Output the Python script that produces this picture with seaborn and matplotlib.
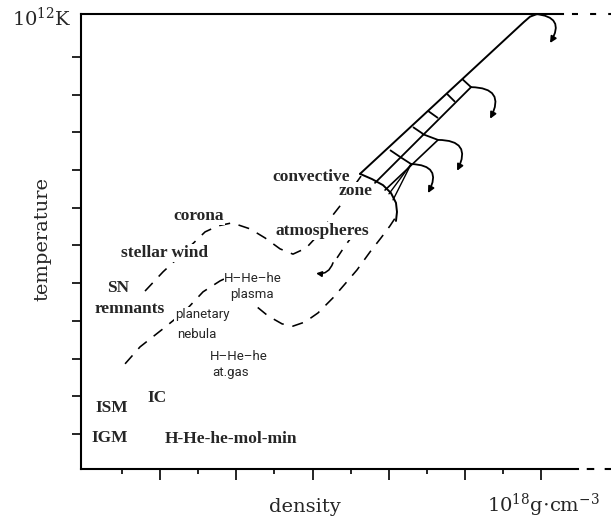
import matplotlib
matplotlib.use("Agg")
import matplotlib.pyplot as plt
import seaborn as sns
from matplotlib import font_manager

# ---------------- data (x: log10 density, y: log10 temperature) ----------------
xtick_major = [-12, -6, 0, 6, 12, 18]
xtick_minor = [-15, -9, -3, 3, 9, 15]
ytick_vals = [1, 2, 3, 4, 5, 6, 7, 8, 9, 10, 11]

# upper dashed track: stellar wind -> corona -> atmospheres -> convective zone
upper_x = [-13.19, -11.77, -10.43, -8.46, -7.44, -6.34, -4.92, -3.74, -2.56, -1.54,
           -0.51, 0.59, 1.54, 2.40, 3.11, 3.82]
upper_y = [4.79, 5.30, 5.72, 6.36, 6.52, 6.60, 6.44, 6.20, 5.91, 5.77,
           5.93, 6.33, 6.78, 7.15, 7.50, 7.84]

# lower dashed track: planetary nebula -> plasma -> base of convective zone
lower_x = [-14.76, -13.58, -11.77, -10.04, -8.62, -7.28, -6.65, -5.87, -5.08, -4.37,
           -3.50, -2.40, -1.54, -0.59, 0.43, 1.61, 2.56, 3.50, 4.53, 5.39, 6.10, 6.57]
lower_y = [2.86, 3.31, 3.79, 4.26, 4.77, 5.06, 5.16, 5.08, 4.74, 4.37,
           4.13, 3.92, 3.86, 3.97, 4.21, 4.61, 4.98, 5.35, 5.83, 6.20, 6.52, 6.76]

# short dashed track below "atmospheres" ending in an arrow
drift_x = [3.27, 2.56, 1.93]
drift_y = [6.31, 5.99, 5.67]
drift_arrow_start = (1.61, 5.54)
drift_arrow_end = (0.28, 5.26)

# convective zone: base arc, outer edge and inner ladder lines
arc_x = [3.74, 4.69, 5.55, 6.18, 6.57, 6.65, 6.57]
arc_y = [7.90, 7.76, 7.60, 7.39, 7.13, 6.89, 6.65]
edge_x = [3.74, 16.65, 17.13, 17.68]
edge_y = [7.90, 11.93, 12.07, 12.14]
inner_x = [4.92, 12.48]
inner_y = [7.66, 10.20]
third_x = [5.71, 9.88]
third_y = [7.47, 8.80]
fan1_x = [6.02, 7.76]
fan1_y = [7.37, 8.16]
fan2_x = [6.34, 7.76]
fan2_y = [7.21, 8.16]

rung_x0 = [11.77, 10.59, 9.09, 7.91, 6.10, 6.89, 8.62]
rung_y0 = [10.42, 10.02, 9.57, 9.14, 8.53, 8.35, 8.96]
rung_x1 = [12.48, 11.22, 9.88, 8.70, 6.89, 7.76, 9.88]
rung_y1 = [10.20, 9.81, 9.38, 8.96, 8.35, 8.16, 8.80]

# curled arrows (start on the zone, end at arrow head)
curl_x0 = [12.48, 9.88, 7.76, 17.52]
curl_y0 = [10.20, 8.80, 8.16, 12.14]
curl_x1 = [13.98, 11.38, 9.09, 18.70]
curl_y1 = [9.36, 7.98, 7.39, 11.37]

# labels
serif_labels = ["convective", "zone", "corona", "stellar wind", "atmospheres", "SN",
                "remnants", "ISM", "IC", "IGM", "H-He-he-mol-min"]
serif_x = [-0.12, 3.43, -8.94, -11.69, 0.75, -15.31, -14.37, -15.79, -12.24, -15.94, -6.42]
serif_y = [7.71, 7.34, 6.68, 5.69, 6.28, 4.77, 4.21, 1.58, 1.85, 0.79, 0.76]

sans_labels = ["H\u2013He\u2013he", "plasma", "planetary", "nebula", "H\u2013He\u2013he", "at.gas"]
sans_x = [-4.68, -4.76, -8.70, -9.09, -5.79, -6.42]
sans_y = [5.03, 4.61, 4.08, 3.55, 2.96, 2.54]

x_label = "density"
y_label = "temperature"
x_unit = r"$10^{18}$g$\cdot$cm$^{-3}$"
y_unit = r"$10^{12}$K"

# ---------------- style ----------------
sns.set_theme(style="white")
plt.rcParams["mathtext.fontset"] = "dejavuserif"
plt.rcParams["font.family"] = ["DejaVu Serif"]


def has_font(name):
    try:
        font_manager.findfont(font_manager.FontProperties(family=name),
                              fallback_to_default=False)
        return True
    except Exception:
        return False


if has_font("Liberation Sans Narrow"):
    sans_family, sans_size = "Liberation Sans Narrow", 11
elif has_font("Roboto"):
    sans_family, sans_size = "Roboto", 9.5
else:
    sans_family, sans_size = "DejaVu Sans", 9

XMIN, XMAX = -18.23, 23.5
YMIN, YMAX = 0.07, 12.14

fig = plt.figure(figsize=(6.11, 5.23), dpi=100)
ax = fig.add_axes([81 / 611, 1 - 469 / 523, (611 - 81) / 611, (469 - 14) / 523])
ax.set_xlim(XMIN, XMAX)
ax.set_ylim(YMIN, YMAX)

dash = (0, (7, 5.5))
LW = 1.15

sns.lineplot(x=upper_x, y=upper_y, sort=False, estimator=None, color="black",
             linewidth=LW, linestyle=dash, ax=ax, legend=False)
sns.lineplot(x=lower_x, y=lower_y, sort=False, estimator=None, color="black",
             linewidth=LW, linestyle=dash, ax=ax, legend=False)
sns.lineplot(x=drift_x, y=drift_y, sort=False, estimator=None, color="black",
             linewidth=LW, linestyle=dash, ax=ax, legend=False)
ax.annotate("", xy=drift_arrow_end, xytext=drift_arrow_start,
            arrowprops=dict(arrowstyle="-|>", color="black", lw=LW, shrinkA=0, shrinkB=0,
                            mutation_scale=8, connectionstyle="arc3,rad=-0.4"))

for xs, ys, lw in [(arc_x, arc_y, 1.4), (edge_x, edge_y, 1.4), (inner_x, inner_y, 1.3),
                   (third_x, third_y, 1.2), (fan1_x, fan1_y, 1.0), (fan2_x, fan2_y, 1.0)]:
    sns.lineplot(x=xs, y=ys, sort=False, estimator=None, color="black",
                 linewidth=lw, ax=ax, legend=False)

for x0, y0, x1, y1 in zip(rung_x0, rung_y0, rung_x1, rung_y1):
    ax.plot([x0, x1], [y0, y1], color="black", lw=1.3, solid_capstyle="butt")

for x0, y0, x1, y1 in zip(curl_x0, curl_y0, curl_x1, curl_y1):
    ax.annotate("", xy=(x1, y1), xytext=(x0, y0),
                arrowprops=dict(arrowstyle="-|>", color="black", lw=1.3, shrinkA=0,
                                shrinkB=0, mutation_scale=9,
                                connectionstyle="arc3,rad=-0.8"),
                annotation_clip=False)

# labels
for t, x, y in zip(serif_labels, serif_x, serif_y):
    ax.text(x, y, t, ha="center", va="baseline", fontsize=12.5,
            family=["Liberation Serif", "DejaVu Serif"], weight="bold",
            bbox=dict(facecolor="white", edgecolor="none", pad=0.5), zorder=5)
for t, x, y in zip(sans_labels, sans_x, sans_y):
    ax.text(x, y, t, ha="center", va="baseline", fontsize=sans_size,
            family=[sans_family, "DejaVu Sans"],
            bbox=dict(facecolor="white", edgecolor="none", pad=0.5), zorder=5)

ax.text(-18.94, 11.82, y_unit, ha="right", va="baseline", fontsize=14,
        family="DejaVu Serif")
ax.text(13.74, -1.07, x_unit, ha="left", va="baseline", fontsize=14,
        family="DejaVu Serif", clip_on=False)
ax.text(-0.63, -1.07, x_label, ha="center", va="baseline", fontsize=14,
        family="DejaVu Serif", clip_on=False)
ax.text(-21.30, 6.17, y_label, ha="center", va="center", rotation=90, fontsize=14,
        family="DejaVu Serif", clip_on=False)

# axes frame
for s in ["left", "top", "bottom"]:
    ax.spines[s].set_color("black")
    ax.spines[s].set_linewidth(1.5)
ax.spines["right"].set_visible(False)
ax.spines["top"].set_bounds(XMIN, 19.73)
ax.spines["bottom"].set_bounds(XMIN, 20.91)
ax.plot([19.73, XMAX], [YMAX, YMAX], color="black", lw=1.5,
        linestyle=(4.4, (2.9, 5.8)), clip_on=False)
ax.plot([20.91, XMAX], [YMIN, YMIN], color="black", lw=1.5,
        linestyle=(4.4, (3.6, 5.0)), clip_on=False)

ax.set_xticks(xtick_major)
ax.set_xticks(xtick_minor, minor=True)
ax.set_yticks(ytick_vals)
ax.set_xticklabels([])
ax.set_yticklabels([])
ax.tick_params(axis="x", which="major", direction="out", length=8, width=1.2,
               bottom=True, color="black")
ax.tick_params(axis="x", which="minor", direction="out", length=3.8, width=1.2,
               bottom=True, color="black")
ax.tick_params(axis="y", which="major", direction="out", length=6.5, width=1.2,
               left=True, color="black")
ax.set_xlabel("")
ax.set_ylabel("")

fig.savefig("out.png", dpi=100)
